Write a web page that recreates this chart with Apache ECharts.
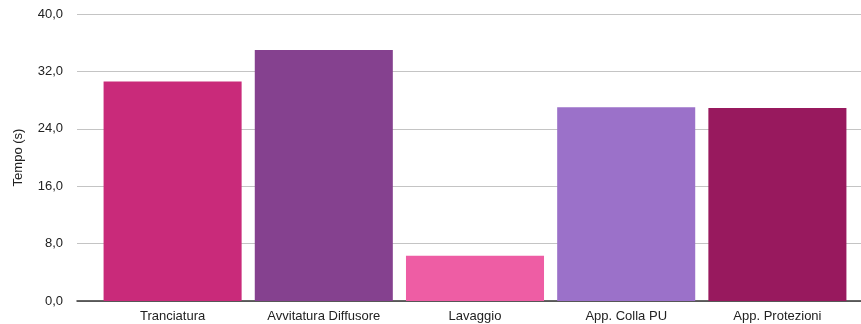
<!DOCTYPE html>
<html lang="it">
<head>
    <meta charset="UTF-8">
    <title>Tempo per fase</title>
    <script src="https://cdn.jsdelivr.net/npm/echarts@6/dist/echarts.min.js"></script>
</head>
<body style="margin:0">
    <div id="chart" style="width: 861px; height: 324px;"></div>
    <script>
        // dati
        var fasi = ["Tranciatura", "Avvitatura Diffusore", "Lavaggio", "App. Colla PU", "App. Protezioni"]
        var tempi = [30.6, 35.0, 6.3, 27.0, 26.9]
        var colori = ["#C92A7A", "#85418F", "#EE5DA4", "#9B71C9", "#98195E"]
        var yTicks = [0, 8, 16, 24, 32, 40]

        var chart = echarts.init(document.getElementById('chart'))
        var font = "'Liberation Sans', Arial, sans-serif"

        var option = {
            animation: false,
            grid: [
                // griglia di sfondo (linee grigie + asse)
                { left: 77, right: 0, top: 14, bottom: 23 },
                // griglia delle barre
                { left: 97, right: 8, top: 14, bottom: 23 }
            ],
            xAxis: [
                {
                    gridIndex: 0, type: 'value', min: 0, max: 1,
                    axisLine: { show: true, lineStyle: { color: '#333', width: 1.5 } },
                    axisTick: { show: false }, axisLabel: { show: false }, splitLine: { show: false }
                },
                {
                    gridIndex: 1, type: 'category', data: fasi,
                    axisLine: { show: false }, axisTick: { show: false },
                    axisLabel: { color: '#222', fontSize: 13, fontFamily: font, margin: 9, interval: 0 }
                }
            ],
            yAxis: [
                {
                    gridIndex: 0, type: 'value', min: yTicks[0], max: yTicks[yTicks.length - 1], interval: 8,
                    name: 'Tempo (s)', nameLocation: 'middle', nameGap: 52,
                    nameTextStyle: { color: '#222', fontSize: 13, fontFamily: font },
                    axisLine: { show: false }, axisTick: { show: false },
                    axisLabel: {
                        color: '#222', fontSize: 13, fontFamily: font, margin: 14,
                        formatter: function (v) { return v.toFixed(1).replace('.', ',') }
                    },
                    splitLine: { lineStyle: { color: '#c4c4c4', width: 1 } }
                },
                {
                    gridIndex: 1, type: 'value', min: yTicks[0], max: yTicks[yTicks.length - 1],
                    show: false
                }
            ],
            series: [
                {
                    type: 'bar', xAxisIndex: 1, yAxisIndex: 1,
                    barCategoryGap: '8.7%',
                    data: tempi.map(function (v, i) {
                        return { value: v, itemStyle: { color: colori[i] } }
                    })
                }
            ]
        }
        chart.setOption(option)
    </script>
</body>
</html>
